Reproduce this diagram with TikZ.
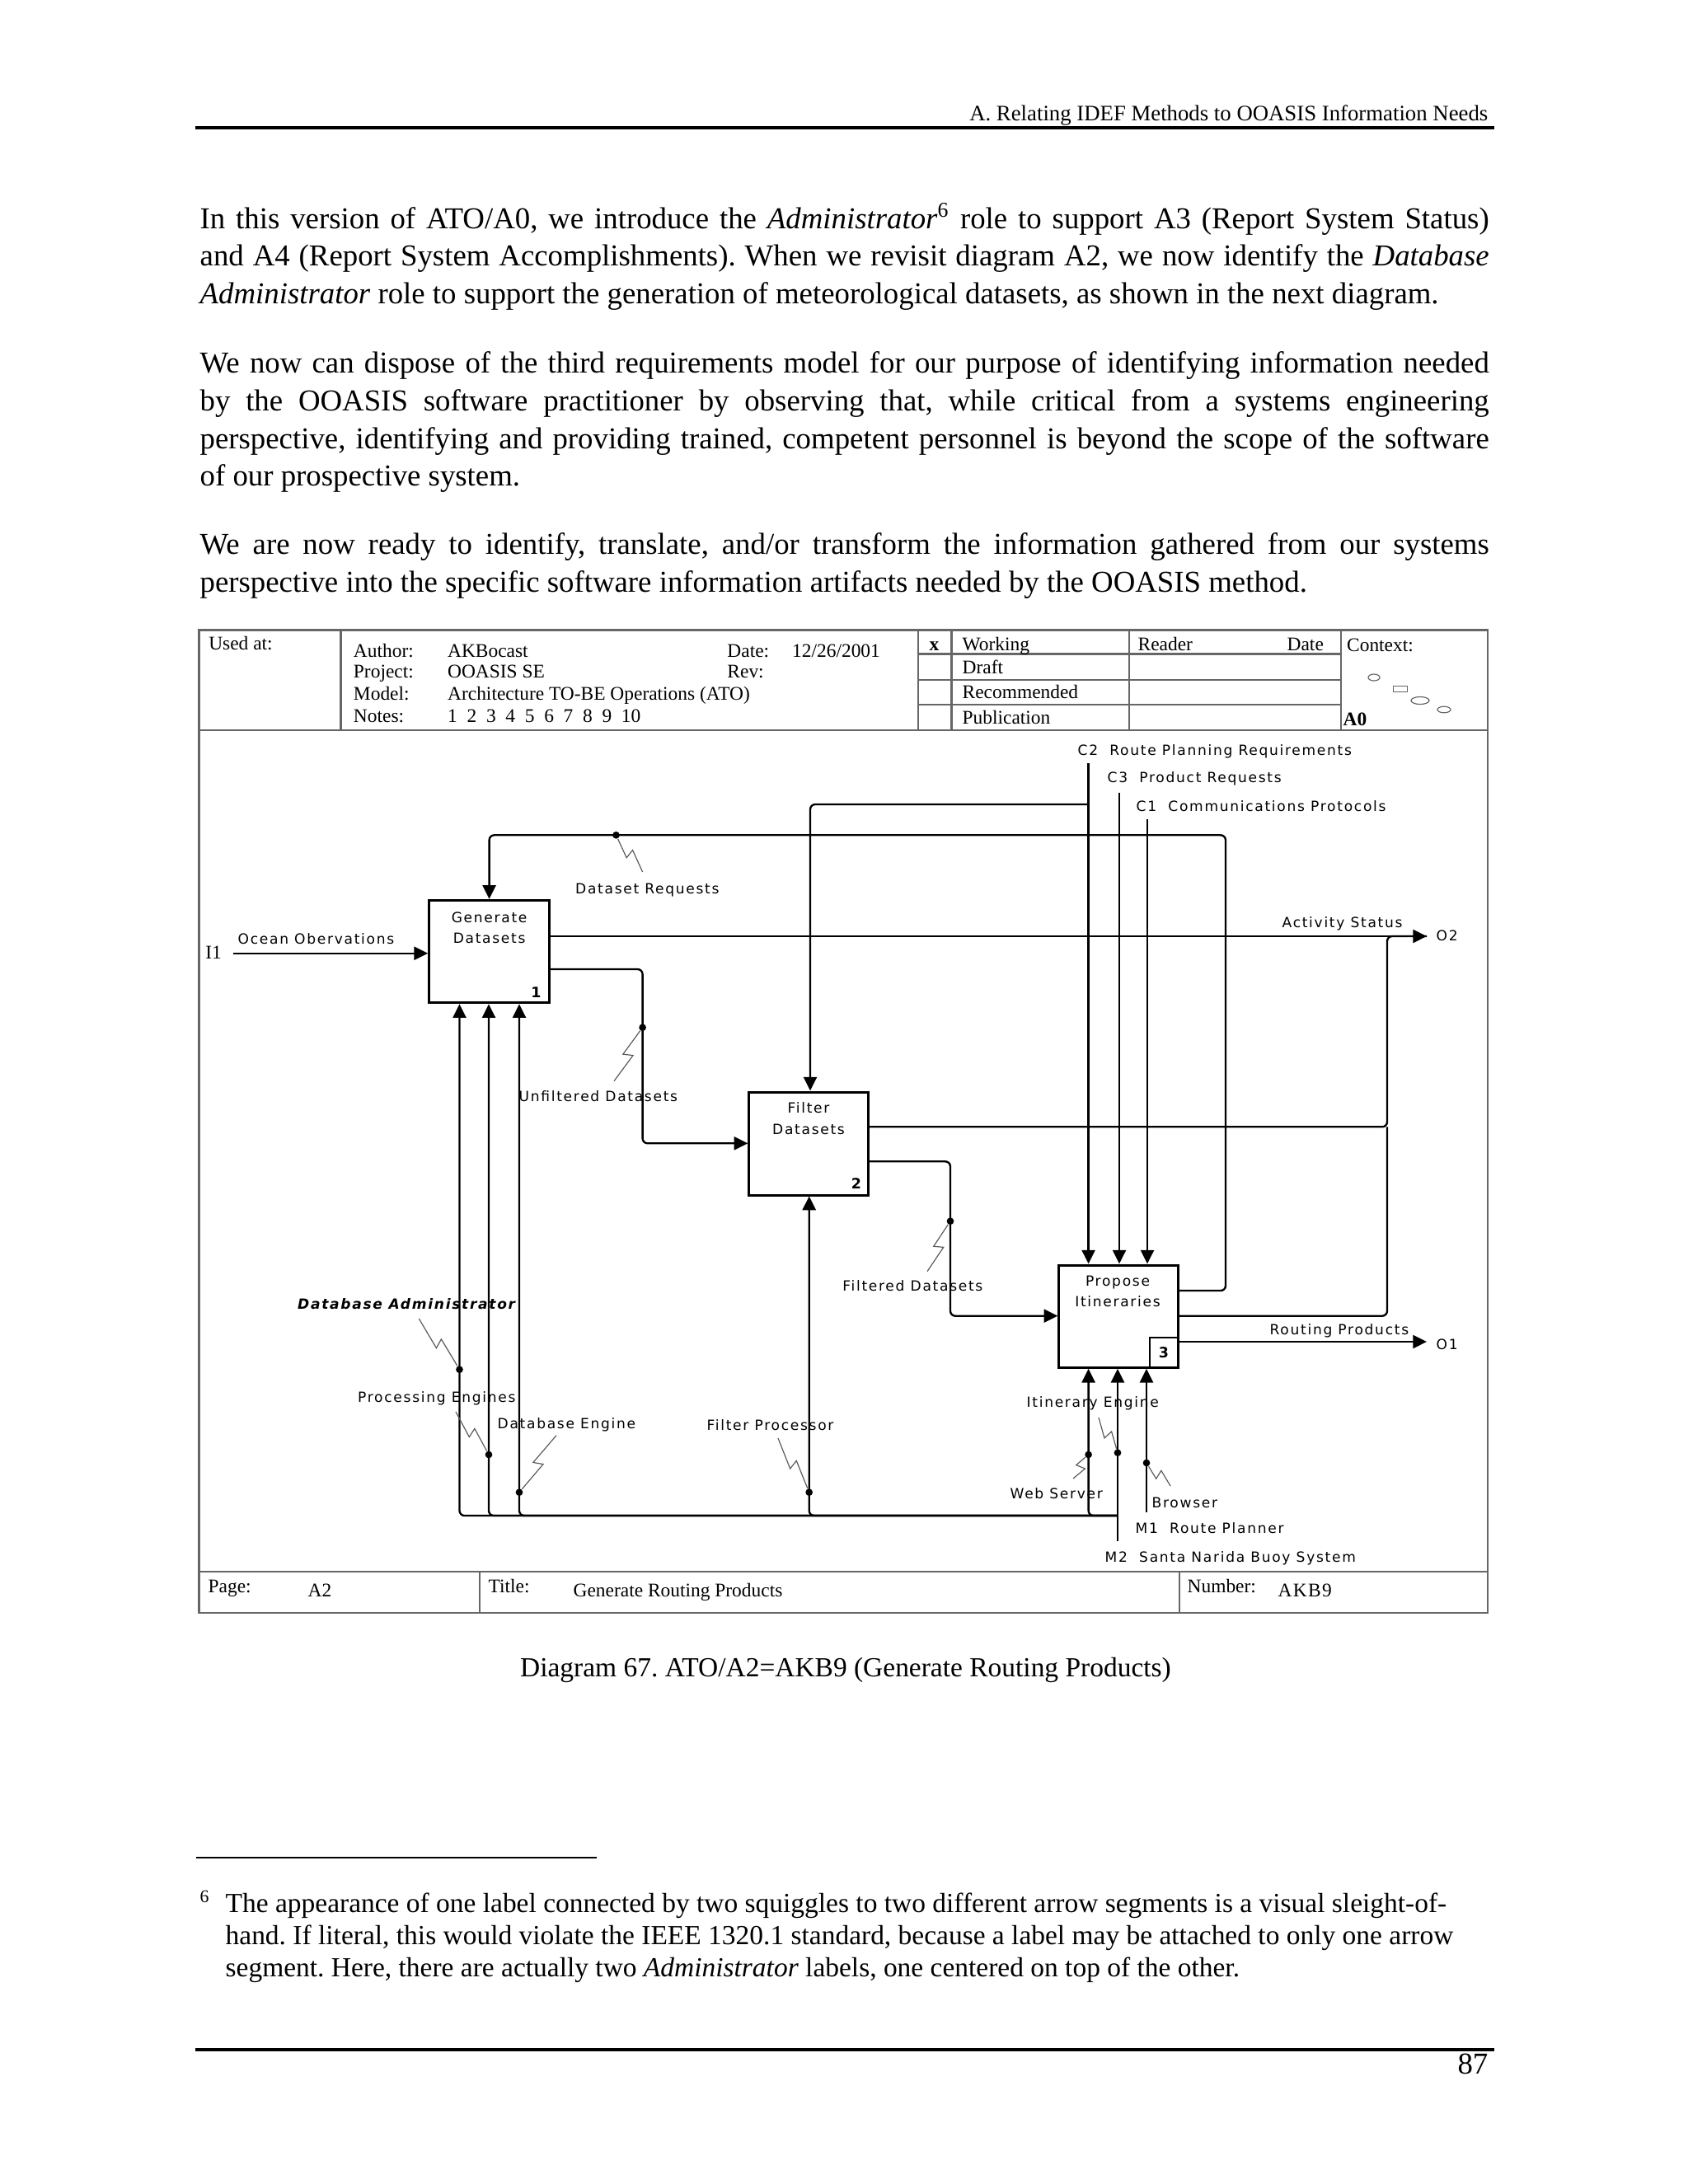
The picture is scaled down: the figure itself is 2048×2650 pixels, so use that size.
\documentclass[tikz,border=0pt]{standalone}
\usepackage{fontspec}
\setmainfont{Liberation Serif}
\newfontfamily\idef[LetterSpace=10]{DejaVu Sans}
\newfontfamily\idefnum{DejaVu Sans}
\usetikzlibrary{arrows.meta,calc,fit}
\frenchspacing
\tikzset{
 ln/.style={line width=0.7pt},
 arr/.style={ln,-{Triangle[length=5pt,width=4.8pt]}},
 rc/.style={rounded corners=1.8pt},
 frm/.style={draw=black!60, line width=0.7pt},
 abox/.style={draw, line width=0.9pt, inner sep=0pt},
 dot/.style={circle, fill, inner sep=0pt, minimum size=2.6pt},
 sq/.style={draw=black!65, line width=0.35pt},
 lab/.style={font=\idef\fontsize{5.1}{6}\selectfont, anchor=west, inner sep=0pt, text height=3.7pt, text depth=0pt},
 ctr/.style={lab, anchor=center},
 num/.style={font=\idefnum\bfseries\fontsize{5.2}{6}\selectfont, anchor=center, inner sep=0pt, text height=3.8pt, text depth=0pt},
 hd/.style={font=\fontsize{7}{8}\selectfont, anchor=west, inner sep=0pt, text height=4.6pt, text depth=0pt},
 bl/.style={font=\fontsize{11}{13.6}\selectfont, anchor=base west, inner sep=0pt},
 fl/.style={font=\fontsize{10}{12}\selectfont, anchor=base west, inner sep=0pt},
}
\newcommand\squig[2]{%
 \path ($(#1)!0.52!(#2)$) coordinate (sqa) ($(#1)!0.46!(#2)$) coordinate (sqb);
 \draw[sq] (#1) -- ($(sqa)!1.7pt!-90:(#2)$) -- ($(sqb)!1.7pt!90:(#2)$) -- (#2);}
\begin{document}
\begin{tikzpicture}[x=0.29883pt,y=-0.29883pt]
\fill[white] (0,0) rectangle (2048,2650);
\useasboundingbox (0,0) rectangle (2048,2650);

% ---------- running head ----------
\node[font=\fontsize{8}{9}\selectfont, anchor=base east, inner sep=0pt] (runhead) at (1806,146) {A. Relating IDEF Methods to OOASIS Information Needs};
\coordinate (hrA) at (237,155); \coordinate (hrB) at (1813,155);
\draw[line width=1.1pt] (hrA) -- (hrB);

% ---------- body text ----------
\node[bl] (p1a) at (242,277) {\makebox[467.4pt][s]{In this version of ATO/A0, we introduce the \textit{Administrator}\textsuperscript{6} role to support A3 (Report System Status)}};
\node[bl] (p1b) at (242,322.6) {\makebox[467.4pt][s]{and A4 (Report System Accomplishments). When we revisit diagram A2, we now identify the \textit{Database}}};
\node[bl] (p1c) at (242,368.2) {\textit{Administrator} role to support the generation of meteorological datasets, as shown in the next diagram.};
\node[bl] (p2a) at (242,452.7) {\makebox[467.4pt][s]{We now can dispose of the third requirements model for our purpose of identifying information needed}};
\node[bl] (p2b) at (242,498.4) {\makebox[467.4pt][s]{by the OOASIS software practitioner by observing that, while critical from a systems engineering}};
\node[bl] (p2c) at (242,544) {\makebox[467.4pt][s]{perspective, identifying and providing trained, competent personnel is beyond the scope of the software}};
\node[bl] (p2d) at (242,589.6) {of our prospective system.};
\node[bl] (p3a) at (242,672.4) {\makebox[467.4pt][s]{We are now ready to identify, translate, and/or transform the information gathered from our systems}};
\node[bl] (p3b) at (242,718) {perspective into the specific software information artifacts needed by the OOASIS method.};

% ---------- diagram frame ----------
\coordinate (fTL) at (241.5,764.5); \coordinate (fBR) at (1805,1957);
\draw[frm] (fTL) rectangle (fBR);
\coordinate (hb1) at (241.5,886); \coordinate (hb2) at (1805,886);
\draw[frm] (hb1) -- (hb2);
\coordinate (fb1) at (241.5,1907); \coordinate (fb2) at (1805,1907);
\draw[frm] (fb1) -- (fb2);
\foreach \xx/\nm in {413.5/va,1113.7/vb,1154.5/vc,1370/vd,1627/ve}{
  \coordinate (\nm t) at (\xx,764.5); \coordinate (\nm b) at (\xx,886);
  \draw[frm] (\nm t) -- (\nm b);}
\foreach \yy/\nm in {793.5/ha,825/hb,855/hc}{
  \coordinate (\nm l) at (1113.7,\yy); \coordinate (\nm r) at (1627,\yy);
  \draw[frm] (\nm l) -- (\nm r);}
\foreach \xx/\nm in {582/vf,1431/vg}{
  \coordinate (\nm t) at (\xx,1907); \coordinate (\nm b) at (\xx,1957);
  \draw[frm] (\nm t) -- (\nm b);}

% header texts
\node[hd] (tUsed) at (252.6,781) {Used at:};
\node[hd] (tAuth) at (428.3,789.3) {Author:};
\node[hd] (tProj) at (428.3,815) {Project:};
\node[hd] (tMod) at (428.3,841.7) {Model:};
\node[hd] (tNot) at (428.3,868.3) {Notes:};
\node[hd] (vAuth) at (542.5,789.3) {AKBocast};
\node[hd] (vProj) at (542.5,815) {OOASIS SE};
\node[hd] (vMod) at (542.5,841.7) {Architecture TO-BE Operations (ATO)};
\node[hd] (vNot) at (542.5,868.3) {1\ \ 2\ \ 3\ \ 4\ \ 5\ \ 6\ \ 7\ \ 8\ \ 9\ \ 10};
\node[hd] (tDate) at (881.8,789.3) {Date:};
\node[hd] (vDate) at (960.5,789.3) {12/26/2001};
\node[hd] (tRev) at (881.8,815) {Rev:};
\node[hd, font=\fontsize{7}{8}\selectfont\bfseries] (tX) at (1127,781.7) {x};
\node[hd] (tWork) at (1167,781.7) {Working};
\node[hd] (tRead) at (1380,781.7) {Reader};
\node[hd] (tDate2) at (1561,781.7) {Date};
\node[hd] (tCtx) at (1633.5,783) {Context:};
\node[hd] (tDraft) at (1167,810) {Draft};
\node[hd] (tRec) at (1167,840) {Recommended};
\node[hd] (tPub) at (1167,871) {Publication};
\node[hd, font=\fontsize{7}{8}\selectfont\bfseries] (tA0) at (1629,873) {A0};
% context thumbnail
\draw[black!60, line width=0.35pt] (1667,822) ellipse [x radius=7, y radius=4];
\draw[black!60, line width=0.35pt] (1690.5,832.5) rectangle (1707.5,839.5);
\draw[black!60, line width=0.35pt] (1723,850) ellipse [x radius=11, y radius=4.5];
\draw[black!60, line width=0.35pt] (1752,861) ellipse [x radius=8, y radius=3.8];

% footer texts
\node[hd] (tPage) at (252,1925) {Page:};
\node[hd] (vPage) at (373,1930) {A2};
\node[hd] (tTitle) at (592,1925) {Title:};
\node[hd] (vTitle) at (695,1930) {Generate Routing Products};
\node[hd] (tNum) at (1440,1925) {Number:};
\node[hd] (vNum) at (1550,1930) {A\kern0.4pt K\kern0.4pt B\kern0.4pt 9};

% ---------- activity boxes ----------
\node[abox, fit={(520.7,1092.3) (666.5,1216.7)}] (b1) {};
\node[abox, fit={(908.8,1325) (1053.4,1450)}] (b2) {};
\node[abox, fit={(1284.8,1535) (1429.3,1659.3)}] (b3) {};
\node[draw, line width=0.8pt, inner sep=0pt, fit={(1395,1623) (1429.3,1659.3)}] (b3nb) {};
\node[ctr] (b1ta) at (593.6,1113.3) {Generate};
\node[ctr] (b1tb) at (593.6,1138.3) {Datasets};
\node[ctr] (b2ta) at (981,1344) {Filter};
\node[ctr] (b2tb) at (981,1370) {Datasets};
\node[ctr] (b3ta) at (1356,1554) {Propose};
\node[ctr] (b3tb) at (1356,1579) {Itineraries};
\node[num] (b1n) at (650.5,1204.6) {1};
\node[num] (b2n) at (1039,1436) {2};
\node[num] (b3n) at (1412,1641) {3};

% ---------- coordinates ----------
\coordinate (i1) at (283,1156.7);
\coordinate (drc) at (1487,1566);
\coordinate (drt) at (1487,1013.3);
\coordinate (o2) at (1731,1136);
\coordinate (fx) at (1683,1367.3);
\coordinate (px) at (1683,1596.7);
\coordinate (ua) at (779.6,1176);
\coordinate (ub) at (779.6,1387.3);
\coordinate (fa) at (1153,1409.3);
\coordinate (fb) at (1153,1596.7);
\coordinate (o1) at (1731,1628);
\coordinate (c2) at (1320.6,926);
\coordinate (c2j) at (1320.6,976);
\coordinate (c2k) at (983,976);
\coordinate (c3) at (1358,961.7);
\coordinate (c1) at (1392,994);
\coordinate (jb) at (1356,1839);
\coordinate (mA) at (557.5,1839);
\coordinate (mB) at (593,1839);
\coordinate (mC) at (630,1839);
\coordinate (mD) at (981.7,1839);
\coordinate (mE) at (1320.6,1839);
\coordinate (m2) at (1356,1870);
\coordinate (m1) at (1391,1835);

% ---------- connectors ----------
\draw[arr] (i1) -- (i1 -| b1.west);
\draw[arr, rc] (drc -| b3.east) -- (drc) -- (drt) -- (drt -| b1.north) -- (b1.north);
\draw[arr] (o2 -| b1.east) -- (o2);
\draw[ln, rc] (fx -| b2.east) -- (fx) -- (fx |- o2) -- (o2);
\draw[ln, rc] (px -| b3.east) -- (px) -- (fx);
\draw[arr, rc] (ua -| b1.east) -- (ua) -- (ub) -- (ub -| b2.west);
\draw[arr, rc] (fa -| b2.east) -- (fa) -- (fb) -- (fb -| b3.west);
\draw[arr] (o1 -| b3.east) -- (o1);
\draw[arr] (c2) -- (c2 |- b3.north);
\draw[arr, rc] (c2j) -- (c2k) -- (c2k |- b2.north);
\draw[arr] (c3) -- (c3 |- b3.north);
\draw[arr] (c1) -- (c1 |- b3.north);
\draw[arr] (m2) -- (m2 |- b3.south);
\draw[arr] (m1) -- (m1 |- b3.south);
\foreach \mm/\bb in {mA/b1,mB/b1,mC/b1,mD/b2,mE/b3}{
  \draw[arr, rc] (jb) -- (\mm) -- (\mm |- \bb.south);}

% ---------- dots ----------
\node[dot] (dDR) at (747.5,1013.3) {};
\node[dot] (dUF) at (779.6,1246.7) {};
\node[dot] (dDA) at (557.5,1661.7) {};
\node[dot] (dPE) at (593,1765) {};
\node[dot] (dDE) at (630,1810.7) {};
\node[dot] (dFP) at (981.7,1810.7) {};
\node[dot] (dFD) at (1153,1481.7) {};
\node[dot] (dIE) at (1356,1762.7) {};
\node[dot] (dWS) at (1320.6,1765) {};
\node[dot] (dBR) at (1391,1775) {};

% ---------- squiggles ----------
\coordinate (sDR) at (779.6,1058);
\coordinate (sUF) at (745,1311.7);
\coordinate (sDA) at (508.3,1600);
\coordinate (sPE) at (553,1713);
\coordinate (sDE) at (675,1741.7);
\coordinate (sFP) at (944,1745);
\coordinate (sFD) at (1125,1542.7);
\coordinate (sIE) at (1333,1720);
\coordinate (sWS) at (1302,1794);
\coordinate (sBR) at (1420,1803);
\squig{sDR}{dDR}
\squig{sUF}{dUF}
\squig{sDA}{dDA}
\squig{sPE}{dPE}
\squig{sDE}{dDE}
\squig{sFP}{dFP}
\squig{sFD}{dFD}
\squig{sIE}{dIE}
\squig{sWS}{dWS}
\squig{sBR}{dBR}

% ---------- arrow labels ----------
\node[hd] (lI1) at (248.6,1156) {I1};
\node[lab] (lOcean) at (288,1139) {Ocean Obervations};
\node[lab] (lDR) at (697.5,1078) {Dataset Requests};
\node[lab] (lUF) at (629,1330.7) {Unfiltered Datasets};
\node[lab] (lAct) at (1555,1119) {Activity Status};
\node[lab] (lO2) at (1742,1135) {O2};
\node[lab] (lO1) at (1742,1631) {O1};
\node[lab] (lC2) at (1307,910) {C2\ \ Route Planning Requirements};
\node[lab] (lC3) at (1343,943) {C3\ \ Product Requests};
\node[lab] (lC1) at (1378,978) {C1\ \ Communications Protocols};
\node[lab] (lRout) at (1540,1613) {Routing Products};
\node[lab] (lFD) at (1021.7,1560) {Filtered Datasets};
\node[lab, font=\idef\fontsize{5.1}{6}\selectfont\bfseries\itshape] (lDA) at (360.5,1582.7) {Database Administrator};
\node[lab] (lPE) at (433.5,1695.5) {Processing Engines};
\node[lab] (lDE) at (603,1727) {Database Engine};
\node[lab] (lFP) at (857,1729) {Filter Processor};
\node[lab] (lIE) at (1245,1701.7) {Itinerary Engine};
\node[lab] (lWS) at (1225,1812) {Web Server};
\node[lab] (lBR) at (1397,1823) {Browser};
\node[lab] (lM1) at (1377,1854) {M1\ \ Route Planner};
\node[lab] (lM2) at (1340,1889) {M2\ \ Santa Narida Buoy System};

% ---------- caption, footnote, page foot ----------
\node[font=\fontsize{10}{12}\selectfont, anchor=base, inner sep=0pt] (cap) at (1026,2034) {Diagram 67. ATO/A2=AKB9 (Generate Routing Products)};
\coordinate (fnA) at (238,2254); \coordinate (fnB) at (724,2254);
\draw[line width=0.8pt] (fnA) -- (fnB);
\node[font=\fontsize{6.5}{7}\selectfont, anchor=base west, inner sep=0pt] (fn6) at (242,2308) {6};
\node[fl] (fna) at (273,2320) {The appearance of one label connected by two squiggles to two different arrow segments is a visual sleight-of-};
\node[fl] (fnb) at (273,2359.6) {hand. If literal, this would violate the IEEE 1320.1 standard, because a label may be attached to only one arrow};
\node[fl] (fnc) at (273,2398.6) {segment. Here, there are actually two \textit{Administrator} labels, one centered on top of the other.};
\coordinate (brA) at (237,2487); \coordinate (brB) at (1813,2487);
\draw[line width=1.1pt] (brA) -- (brB);
\node[font=\fontsize{11}{12}\selectfont, anchor=base east, inner sep=0pt] (pgno) at (1806,2516) {87};
\end{tikzpicture}
\end{document}
